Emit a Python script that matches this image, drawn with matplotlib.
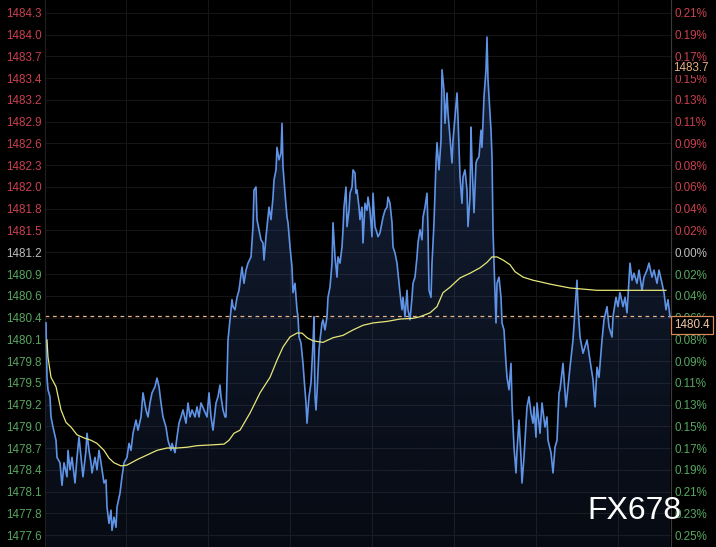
#!/usr/bin/env python3
"""
Intraday price chart with average line, dark terminal style
"""

import numpy as np
import matplotlib
matplotlib.use("Agg")
import matplotlib.pyplot as plt
from matplotlib.patches import Polygon

plt.rcParams['font.family'] = ['Liberation Sans', 'DejaVu Sans']

# minute index and price for the blue price line
minutes = [1, 2, 3, 5, 6, 8, 11, 12, 15, 17, 19, 22, 23, 25, 27, 30, 32, 34, 36, 38,
           41, 42, 44, 46, 47, 50, 52, 54, 56, 59, 61, 62, 64, 66, 67, 69, 71, 72, 75, 77,
           79, 82, 84, 86, 88, 91, 93, 96, 98, 101, 103, 105, 107, 110, 112, 114, 116, 118, 121, 123,
           126, 127, 130, 132, 134, 136, 138, 141, 143, 145, 147, 150, 152, 154, 156, 159, 162, 164, 166, 168,
           171, 173, 175, 176, 178, 180, 181, 183, 185, 187, 188, 190, 192, 194, 197, 199, 201, 203, 206, 208,
           209, 211, 212, 214, 216, 218, 219, 221, 223, 224, 226, 228, 229, 231, 232, 234, 236, 237, 238, 240,
           242, 243, 245, 247, 248, 250, 252, 253, 254, 256, 258, 259, 261, 262, 264, 266, 268, 269, 270, 271,
           272, 274, 275, 277, 278, 280, 282, 283, 285, 287, 288, 290, 292, 293, 295, 297, 298, 299, 301, 302,
           304, 305, 307, 308, 310, 311, 312, 314, 315, 317, 318, 320, 322, 323, 325, 327, 328, 330, 332, 333,
           335, 337, 338, 340, 342, 343, 345, 347, 348, 350, 352, 353, 355, 357, 358, 360, 362, 363, 365, 367,
           368, 370, 372, 373, 375, 377, 378, 380, 382, 383, 384, 386, 387, 389, 391, 392, 394, 396, 397, 399,
           400, 402, 403, 405, 407, 408, 410, 412, 413, 415, 417, 418, 420, 422, 423, 425, 426, 427, 429, 431,
           432, 434, 436, 437, 439, 441, 442, 443, 444, 446, 447, 448, 449, 451, 452, 454, 456, 457, 459, 461,
           462, 464, 466, 467, 469, 471, 472, 474, 476, 477, 479, 481, 482, 484, 486, 488, 489, 491, 492, 495,
           497, 500, 502, 503, 506, 508, 510, 512, 514, 515, 518, 521, 525, 528, 532, 533, 535, 538, 542, 545,
           548, 550, 552, 554, 557, 559, 562, 564, 567, 568, 571, 573, 575, 578, 580, 582, 585, 587, 589, 592,
           594, 597, 599, 602, 604, 607, 609, 612, 614, 617, 619, 621, 623, 625]
prices = [1480.29, 1479.59, 1479.43, 1479.34, 1479.08, 1478.95, 1478.78, 1478.56, 1478.49, 1478.20,
          1478.49, 1478.31, 1478.65, 1478.40, 1478.56, 1478.23, 1478.56, 1478.82, 1478.56, 1478.31,
          1478.65, 1478.87, 1478.65, 1478.49, 1478.36, 1478.56, 1478.40, 1478.65, 1478.49, 1478.23,
          1478.27, 1477.92, 1477.71, 1477.88, 1477.62, 1477.79, 1477.66, 1477.92, 1478.10, 1478.31,
          1478.49, 1478.56, 1478.74, 1478.65, 1478.87, 1479.04, 1478.91, 1479.08, 1479.39, 1479.17,
          1479.08, 1479.26, 1479.39, 1479.47, 1479.58, 1479.47, 1479.26, 1479.08, 1478.95, 1478.78,
          1478.65, 1478.74, 1478.62, 1478.82, 1479.00, 1479.08, 1479.17, 1479.00, 1479.26, 1479.08,
          1479.17, 1479.08, 1479.21, 1479.08, 1479.26, 1479.17, 1479.08, 1479.39, 1479.08, 1478.91,
          1479.26, 1479.34, 1479.49, 1479.34, 1479.17, 1479.08, 1479.08, 1480.07, 1480.33, 1480.59,
          1480.50, 1480.46, 1480.62, 1480.71, 1481.01, 1480.80, 1480.97, 1481.06, 1481.14, 1481.53,
          1482.00, 1482.04, 1481.62, 1481.49, 1481.36, 1481.32, 1481.10, 1481.40, 1481.65, 1481.78,
          1481.62, 1481.91, 1482.13, 1482.26, 1482.55, 1482.39, 1482.48, 1482.86, 1482.30, 1481.96,
          1481.65, 1481.58, 1481.27, 1481.01, 1480.68, 1480.80, 1480.46, 1480.37, 1480.11, 1480.03,
          1479.77, 1479.59, 1479.26, 1479.00, 1479.34, 1479.52, 1480.03, 1480.37, 1479.34, 1479.17,
          1479.39, 1479.94, 1480.07, 1480.29, 1480.33, 1480.20, 1480.37, 1480.62, 1480.75, 1481.06,
          1481.58, 1481.14, 1480.88, 1481.14, 1481.06, 1481.27, 1481.49, 1481.78, 1482.04, 1481.53,
          1481.74, 1481.96, 1482.04, 1482.26, 1482.22, 1481.96, 1482.00, 1481.78, 1481.62, 1481.78,
          1481.32, 1481.83, 1481.74, 1481.91, 1481.74, 1481.40, 1481.96, 1481.53, 1481.45, 1481.40,
          1481.45, 1481.58, 1481.65, 1481.74, 1481.78, 1481.91, 1481.83, 1481.58, 1481.27, 1481.19,
          1481.06, 1480.93, 1480.68, 1480.46, 1480.62, 1480.37, 1480.71, 1480.46, 1480.33, 1480.62,
          1480.80, 1480.88, 1481.14, 1481.32, 1481.49, 1481.36, 1481.65, 1481.78, 1481.96, 1481.49,
          1480.71, 1480.62, 1481.06, 1481.58, 1482.35, 1482.61, 1482.26, 1482.64, 1483.55, 1483.29,
          1482.86, 1483.25, 1482.99, 1482.68, 1482.35, 1482.64, 1482.94, 1483.25, 1482.94, 1482.17,
          1481.83, 1482.17, 1482.26, 1482.00, 1481.53, 1481.91, 1482.81, 1482.35, 1481.71, 1482.35,
          1482.39, 1482.43, 1482.77, 1482.55, 1483.20, 1483.55, 1483.97, 1483.42, 1483.20, 1482.77,
          1482.43, 1481.49, 1481.06, 1480.29, 1480.80, 1480.88, 1480.62, 1480.29, 1480.20, 1479.77,
          1479.59, 1479.43, 1479.77, 1479.26, 1478.69, 1478.36, 1478.65, 1479.04, 1478.56, 1478.23,
          1478.56, 1479.00, 1479.21, 1479.34, 1479.13, 1479.00, 1479.21, 1478.82, 1479.26, 1478.87,
          1479.26, 1478.95, 1479.08, 1478.78, 1478.62, 1478.36, 1478.69, 1478.78, 1479.39, 1479.43,
          1479.77, 1479.21, 1479.72, 1480.07, 1480.84, 1480.50, 1480.11, 1479.90, 1480.07, 1479.81,
          1479.56, 1479.21, 1479.72, 1479.59, 1480.07, 1480.33, 1480.50, 1480.24, 1480.11, 1480.37,
          1480.62, 1480.50, 1480.68, 1480.50, 1480.62, 1480.42, 1481.06, 1480.84, 1480.93, 1480.80,
          1480.97, 1480.71, 1480.88, 1480.97, 1481.06, 1480.88, 1480.97, 1480.80, 1480.97, 1480.80,
          1480.68, 1480.46, 1480.59, 1480.37]

# yellow average line
avg_minutes = [2, 3, 6, 11, 16, 21, 26, 32, 39, 46, 52, 59, 64, 69, 76, 82, 92, 102, 112, 122,
               132, 142, 152, 166, 179, 184, 189, 195, 205, 215, 225, 232, 238, 245, 252, 257, 262, 268, 278, 288,
               298, 308, 318, 328, 342, 355, 368, 375, 385, 392, 398, 405, 415, 425, 435, 442, 447, 452, 458, 465,
               470, 478, 488, 495, 505, 525, 552, 585, 621]
avg_prices = [1480.07, 1479.85, 1479.59, 1479.47, 1479.17, 1479.01, 1478.95, 1478.85, 1478.81, 1478.78,
              1478.74, 1478.65, 1478.55, 1478.49, 1478.45, 1478.46, 1478.53, 1478.59, 1478.65, 1478.68,
              1478.68, 1478.69, 1478.71, 1478.72, 1478.73, 1478.78, 1478.87, 1478.91, 1479.13, 1479.39,
              1479.59, 1479.81, 1479.98, 1480.11, 1480.16, 1480.16, 1480.10, 1480.06, 1480.04, 1480.10,
              1480.13, 1480.20, 1480.26, 1480.29, 1480.31, 1480.34, 1480.35, 1480.37, 1480.42, 1480.50,
              1480.68, 1480.75, 1480.87, 1480.93, 1481.00, 1481.07, 1481.14, 1481.14, 1481.10, 1481.04,
              1480.95, 1480.88, 1480.84, 1480.82, 1480.79, 1480.74, 1480.71, 1480.71, 1480.71]

last_price = 1480.38
last_label = '1480.4'
high_label = '1483.7'
high_mark = 1483.57

# axis labels
left_labels = ['1484.3', '1484.0', '1483.7', '1483.4', '1483.2', '1482.9', '1482.6', '1482.3',
               '1482.0', '1481.8', '1481.5', '1481.2', '1480.9', '1480.6', '1480.4', '1480.1',
               '1479.8', '1479.5', '1479.2', '1479.0', '1478.7', '1478.4', '1478.1', '1477.8', '1477.6']
pct_labels = ['0.21%', '0.19%', '0.17%', '0.15%', '0.13%', '0.11%', '0.09%', '0.08%',
              '0.06%', '0.04%', '0.02%', '0.00%', '0.02%', '0.04%', '0.06%', '0.08%',
              '0.09%', '0.11%', '0.13%', '0.15%', '0.17%', '0.19%', '0.21%', '0.23%', '0.25%']
ref_price = 1481.2
tick_step = 0.28
ref_index = 11

RED = '#c9404f'
GREEN = '#57a65f'
GREY = '#bdbdbd'
BLUE = '#5f93e6'
YELLOW = '#e6e67a'

W, H = 716, 547
fig = plt.figure(figsize=(W / 100, H / 100), dpi=100, facecolor='#000000')
ax = fig.add_axes([45 / W, 0, 626 / W, 1])
ax.set_facecolor('#000000')

y_top, y_bot = 1484.447, 1477.406
ax.set_xlim(0, 626)
ax.set_ylim(y_bot, y_top)

tick_pos = [ref_price + (ref_index - i) * tick_step for i in range(len(left_labels))]

# faint grid
for t in tick_pos:
    ax.axhline(t, color='#161616', lw=0.7, zorder=0)
for gx in [81, 163, 245, 327, 409, 491, 573]:
    ax.axvline(gx, color='#161616', lw=0.7, zorder=0)

# gradient fill under the price line
x = np.array(minutes, dtype=float)
y = np.array(prices)
verts = [(x[0], y_bot)] + list(zip(x, y)) + [(x[-1], y_bot)]
poly = Polygon(verts, closed=True, facecolor='none', edgecolor='none')
ax.add_patch(poly)
grad = np.zeros((256, 1, 4))
grad[:, 0, 0] = 70 / 255
grad[:, 0, 1] = 110 / 255
grad[:, 0, 2] = 190 / 255
grad[:, 0, 3] = np.linspace(0.32, 0.10, 256)
img = ax.imshow(grad, extent=[0, 626, y_bot, y_top], origin='upper',
                aspect='auto', zorder=1)
img.set_clip_path(poly)

ax.plot(x, y, color=BLUE, lw=1.2, zorder=3)
ax.plot(avg_minutes, avg_prices, color=YELLOW, lw=0.9, zorder=4)
ax.axhline(last_price, color='#e9b48a', lw=0.9, ls=(0, (3, 3)), zorder=2)

for s in ['top', 'bottom']:
    ax.spines[s].set_visible(False)
ax.spines['left'].set_color('#202020')
ax.spines['right'].set_color('#3a3a3a')
ax.set_xticks([])

def label_color(i):
    if i < ref_index:
        return RED
    if i == ref_index:
        return GREY
    return GREEN

ax.set_yticks(tick_pos)
ax.set_yticklabels(left_labels, fontsize=8.4)
ax.tick_params(axis='y', length=0, pad=2.5)
for i, lab in enumerate(ax.get_yticklabels()):
    lab.set_color(label_color(i))

ax2 = ax.twinx()
ax2.set_ylim(y_bot, y_top)
ax2.set_yticks(tick_pos)
ax2.set_yticklabels(pct_labels, fontsize=8.4)
ax2.tick_params(axis='y', length=0, pad=2.5)
for s in ['top', 'bottom', 'left', 'right']:
    ax2.spines[s].set_visible(False)
for i, lab in enumerate(ax2.get_yticklabels()):
    lab.set_color(label_color(i))

# price tags on the right
ax2.annotate(high_label, xy=(1.0, high_mark), xycoords=ax.get_yaxis_transform(),
             xytext=(1.5, 0), textcoords='offset points',
             color='#e8b080', fontsize=8.4, va='center', ha='left', zorder=6,
             annotation_clip=False,
             bbox=dict(boxstyle='square,pad=0.1', facecolor='#000000', edgecolor='none'))
ax2.annotate(last_label, xy=(1.0, last_price), xycoords=ax.get_yaxis_transform(),
             xytext=(2.2, -2.2), textcoords='offset points',
             color='#f0c8a8', fontsize=8.4, va='top', ha='left', zorder=6,
             annotation_clip=False,
             bbox=dict(boxstyle='square,pad=0.25', facecolor='#000000',
                       edgecolor='#d9895a', lw=0.9))

# watermark
fig.text(587 / W, 1 - 511 / H, 'FX678', color='#ffffff', fontsize=23,
         ha='left', va='center', family=['Liberation Sans', 'DejaVu Sans'])

fig.savefig('out.png', dpi=100, facecolor=fig.get_facecolor())
